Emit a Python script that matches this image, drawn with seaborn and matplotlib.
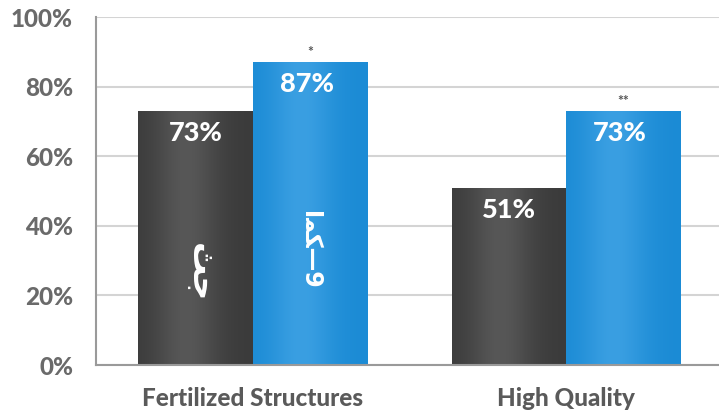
import numpy as np
import pandas as pd
import matplotlib
matplotlib.use("Agg")
import matplotlib.pyplot as plt
import seaborn as sns
from matplotlib.ticker import FuncFormatter, FixedLocator

# Data
categories = ["Fertilized Structures", "High Quality"]
groups = ["ﺚﺟ", "ﺍﻤﻜ—9"]
dark_values = [73, 51]
blue_values = [87, 73]
significance = ["*", "**"]
y_ticks = [0, 20, 40, 60, 80, 100]

colors = {groups[0]: "#434343", groups[1]: "#1f8fd8"}

df = pd.DataFrame({
    "category": categories * 2,
    "group": [groups[0]] * len(categories) + [groups[1]] * len(categories),
    "value": dark_values + blue_values,
})

sns.set_theme(style="white")
plt.rcParams["font.family"] = ["Lato", "DejaVu Sans"]

fig = plt.figure(figsize=(7.19, 4.13), dpi=100)
ax = fig.add_axes([0.1335, 0.116, 0.872, 0.8426])

sns.barplot(data=df, x="category", y="value", hue="group", order=categories,
            hue_order=groups, palette=colors, width=0.73, saturation=1,
            linewidth=0, legend=False, ax=ax)

ax.set_xlim(-0.5, 1.5)
ax.set_ylim(0, 100)

# Soft vertical shading on each bar
def shade(patch, base, light):
    x0, y0 = patch.get_x(), patch.get_y()
    w, h = patch.get_width(), patch.get_height()
    t = np.linspace(0, 1, 64)
    prof = np.exp(-((t - 0.42) / 0.28) ** 2)
    b = np.array(matplotlib.colors.to_rgb(base))
    l = np.array(matplotlib.colors.to_rgb(light))
    row = b[None, :] + (l - b)[None, :] * prof[:, None]
    img = ax.imshow(row[None, :, :], extent=[x0, x0 + w, y0, y0 + h],
                    aspect="auto", zorder=patch.get_zorder() + 0.1,
                    interpolation="bilinear")
    img.set_clip_path(patch)

bars = [p for p in ax.patches if p.get_height() > 0]
for p in bars:
    fc = matplotlib.colors.to_hex(p.get_facecolor())
    if fc == colors[groups[0]]:
        shade(p, "#3b3b3b", "#575757")
    else:
        shade(p, "#1b8bd5", "#3a9fe2")
ax.set_xlim(-0.5, 1.5)
ax.set_ylim(0, 100)

# Value labels, group labels and significance marks
dark_bars = sorted([p for p in bars if matplotlib.colors.to_hex(p.get_facecolor()) == colors[groups[0]]],
                   key=lambda p: p.get_x())
blue_bars = sorted([p for p in bars if matplotlib.colors.to_hex(p.get_facecolor()) == colors[groups[1]]],
                   key=lambda p: p.get_x())

label_kw = dict(ha="center", va="center", color="white", fontsize=19.5,
                fontweight="black", zorder=5)
for p, v in zip(dark_bars, dark_values):
    cx = p.get_x() + p.get_width() / 2
    ax.text(cx, v - 6.3, f"{v}%", **label_kw)
for p, v, s in zip(blue_bars, blue_values, significance):
    cx = p.get_x() + p.get_width() / 2
    ax.text(cx - 0.01, v - 6.3, f"{v}%", **label_kw)
    ax.text(cx, v + 3.0, s, ha="center", va="center", color="#555555",
            fontsize=10, fontweight="bold", zorder=5)

ax.text(dark_bars[0].get_x() + dark_bars[0].get_width() / 2 + 0.015, 26.5, groups[0],
        rotation=-90, ha="center", va="center", color="white", fontsize=24,
        fontweight="bold", family=["DejaVu Sans"], zorder=5)
ax.text(blue_bars[0].get_x() + blue_bars[0].get_width() / 2, 33, groups[1],
        rotation=-90, ha="center", va="center", color="white", fontsize=17,
        fontweight="bold", family=["DejaVu Sans"], zorder=5)

# Axes styling
ax.yaxis.set_major_locator(FixedLocator(y_ticks))
ax.yaxis.set_major_formatter(FuncFormatter(lambda v, _: f"{v:.0f}%"))
ax.grid(axis="y", color="#d4d4d4", linewidth=1.5, zorder=0)
ax.set_axisbelow(True)
ax.tick_params(axis="y", length=6.5, width=1.5, color="#d4d4d4", pad=10,
               labelsize=17.5, labelcolor="#6a6a6a")
for lab in ax.get_yticklabels():
    lab.set_fontweight("black")

ax.set_xticks([0, 1])
ax.set_xticklabels(categories, fontsize=17.5, fontweight="black", color="#5a5a5a")
ax.tick_params(axis="x", length=0, pad=15.5)
ax.set_xticks([-0.5, 0.5], minor=True)
ax.tick_params(axis="x", which="minor", length=4.5, width=1.2, color="#b0b0b0")

for side in ["top", "right"]:
    ax.spines[side].set_visible(False)
for side in ["left", "bottom"]:
    ax.spines[side].set_color("#9a9a9a")
    ax.spines[side].set_linewidth(1.5)
ax.set_xlabel("")
ax.set_ylabel("")

fig.savefig("out.png", dpi=100)
